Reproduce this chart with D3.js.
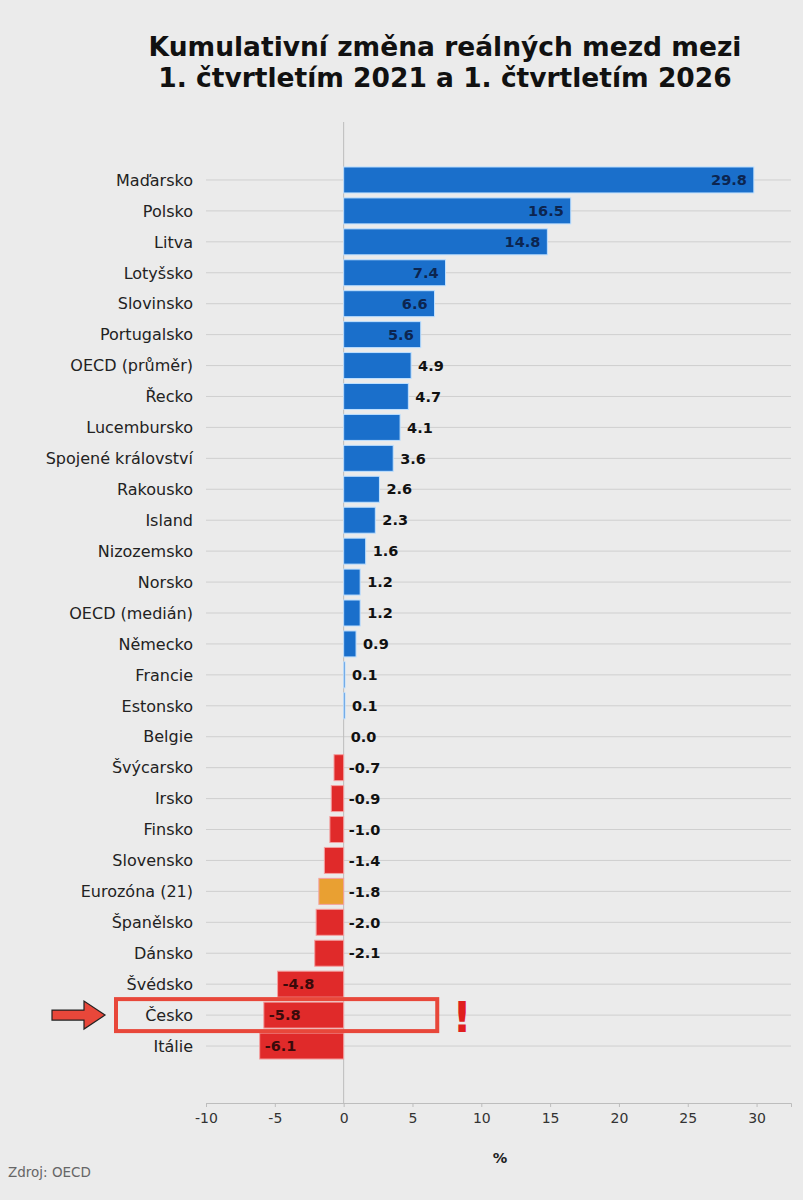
<!DOCTYPE html>
<html>
<head>
<meta charset="utf-8">
<script src="https://cdn.jsdelivr.net/npm/d3@7"></script>
<style>
  body { margin: 0; background: #ebebeb; }
  svg { font-family: "DejaVu Sans", sans-serif; }
</style>
</head>
<body>
<script>
let zeme = [
  "Maďarsko", "Polsko", "Litva", "Lotyšsko", "Slovinsko", "Portugalsko",
  "OECD (průměr)", "Řecko", "Lucembursko", "Spojené království", "Rakousko",
  "Island", "Nizozemsko", "Norsko", "OECD (medián)", "Německo", "Francie",
  "Estonsko", "Belgie", "Švýcarsko", "Irsko", "Finsko", "Slovensko",
  "Eurozóna (21)", "Španělsko", "Dánsko", "Švédsko", "Česko", "Itálie",
];
let zmeny = [
  29.8, 16.5, 14.8, 7.4, 6.6, 5.6, 4.9, 4.7, 4.1, 3.6, 2.6, 2.3, 1.6, 1.2,
  1.2, 0.9, 0.1, 0.1, 0.0, -0.7, -0.9, -1.0, -1.4, -1.8, -2.0, -2.1, -4.8,
  -5.8, -6.1,
];
let ticky = [-10, -5, 0, 5, 10, 15, 20, 25, 30];

function graficar() {
  let w = 803;
  let h = 1200;

  let svg = d3.select("body").append("svg").attr("width", w).attr("height", h);

  let x = d3.scaleLinear().domain([-10, 32.5]).range([206, 791]);
  let y = d3
    .scaleBand()
    .domain(zeme)
    .range([164.5, 1061.5])
    .paddingInner(0.16)
    .paddingOuter(0.08);

  // titulek
  svg
    .append("text")
    .attr("x", 445)
    .attr("y", 56)
    .attr("text-anchor", "middle")
    .attr("font-size", 26.5)
    .attr("font-weight", "bold")
    .attr("fill", "#111")
    .text("Kumulativní změna reálných mezd mezi");
  svg
    .append("text")
    .attr("x", 445)
    .attr("y", 87)
    .attr("text-anchor", "middle")
    .attr("font-size", 26.5)
    .attr("font-weight", "bold")
    .attr("fill", "#111")
    .text("1. čtvrtletím 2021 a 1. čtvrtletím 2026");

  // vodorovne mrizky
  svg
    .selectAll("line.grid")
    .data(zeme)
    .enter()
    .append("line")
    .attr("class", "grid")
    .attr("x1", x(-10))
    .attr("x2", x(32.5))
    .attr("y1", (d) => y(d) + y.bandwidth() / 2)
    .attr("y2", (d) => y(d) + y.bandwidth() / 2)
    .attr("stroke", "#cfcfcf")
    .attr("stroke-width", 1);

  // nulova osa
  svg
    .append("line")
    .attr("x1", x(0))
    .attr("x2", x(0))
    .attr("y1", 122)
    .attr("y2", 1103)
    .attr("stroke", "#bdbdbd")
    .attr("stroke-width", 1);

  let barva = function (d, i) {
    if (zeme[i] == "Eurozóna (21)") return "#e9a032";
    return d < 0 ? "#e02a2a" : "#1a6fcb";
  };

  svg
    .selectAll("rect.bar")
    .data(zmeny)
    .enter()
    .append("rect")
    .attr("class", "bar")
    .attr("x", (d) => x(Math.min(0, d)))
    .attr("y", (d, i) => y(zeme[i]))
    .attr("width", (d) => Math.abs(x(d) - x(0)))
    .attr("height", y.bandwidth())
    .attr("fill", barva)
    .attr("stroke", (d) => (d < 0 ? "#f4a0a0" : "#bfe0ff"))
    .attr("stroke-width", (d) => (d == 0 ? 0 : 1));

  // hodnoty - velke sloupce maji popisek uvnitr
  let uvnitr = (d) => d > 5 || d < -3;
  svg
    .selectAll("text.val")
    .data(zmeny)
    .enter()
    .append("text")
    .attr("class", "val")
    .text((d) => d.toFixed(1))
    .attr("x", function (d) {
      if (uvnitr(d)) return d > 0 ? x(d) - 7 : x(d) + 5;
      return d >= 0 ? x(d) + 7 : x(0) + 5;
    })
    .attr("y", (d, i) => y(zeme[i]) + y.bandwidth() / 2)
    .attr("dy", "0.36em")
    .attr("text-anchor", (d) => (uvnitr(d) && d > 0 ? "end" : "start"))
    .attr("font-size", 14.5)
    .attr("font-weight", "bold")
    .attr("fill", (d) => (uvnitr(d) ? (d > 0 ? "#0c2550" : "#3a0a0a") : "#111"));

  // nazvy zemi
  svg
    .selectAll("text.lab")
    .data(zeme)
    .enter()
    .append("text")
    .attr("class", "lab")
    .text((d) => d)
    .attr("x", 193)
    .attr("y", (d) => y(d) + y.bandwidth() / 2)
    .attr("dy", "0.36em")
    .attr("text-anchor", "end")
    .attr("font-size", 16)
    .attr("fill", "#222");

  // osa x
  let osa = svg
    .append("g")
    .attr("transform", "translate(0,1103)")
    .call(
      d3
        .axisBottom(x)
        .tickValues(ticky)
        .tickFormat((d) => String(d))
        .tickSize(4)
        .tickPadding(6)
    );
  osa.select(".domain").attr("stroke", "#bdbdbd");
  osa.selectAll(".tick line").attr("stroke", "#bdbdbd");
  osa
    .selectAll(".tick text")
    .attr("font-size", 14)
    .attr("fill", "#333")
    .attr("font-family", "DejaVu Sans, sans-serif");

  svg
    .append("text")
    .attr("x", 500)
    .attr("y", 1163)
    .attr("text-anchor", "middle")
    .attr("font-size", 14.5)
    .attr("font-weight", "bold")
    .attr("fill", "#222")
    .text("%");

  svg
    .append("text")
    .attr("x", 8)
    .attr("y", 1177)
    .attr("font-size", 13.5)
    .attr("fill", "#666")
    .text("Zdroj: OECD");

  // zvyrazneni Ceska
  let cy = y("Česko");
  svg
    .append("rect")
    .attr("x", 116)
    .attr("y", cy - 3)
    .attr("width", x(6.8) - 116)
    .attr("height", y.bandwidth() + 6)
    .attr("fill", "none")
    .attr("stroke", "#e8473a")
    .attr("stroke-width", 4);

  let ay = cy + y.bandwidth() / 2;
  svg
    .append("path")
    .attr(
      "d",
      `M52,${ay - 5} L84,${ay - 5} L84,${ay - 14} L105,${ay} L84,${ay + 14} L84,${ay + 5} L52,${ay + 5} Z`
    )
    .attr("fill", "#e8473a")
    .attr("stroke", "#222")
    .attr("stroke-width", 1.2);

  svg
    .append("text")
    .attr("x", 462)
    .attr("y", ay + 17)
    .attr("text-anchor", "middle")
    .attr("font-size", 42)
    .attr("font-weight", "bold")
    .attr("fill", "#e01e1e")
    .text("!");
}

graficar();
</script>
</body>
</html>
